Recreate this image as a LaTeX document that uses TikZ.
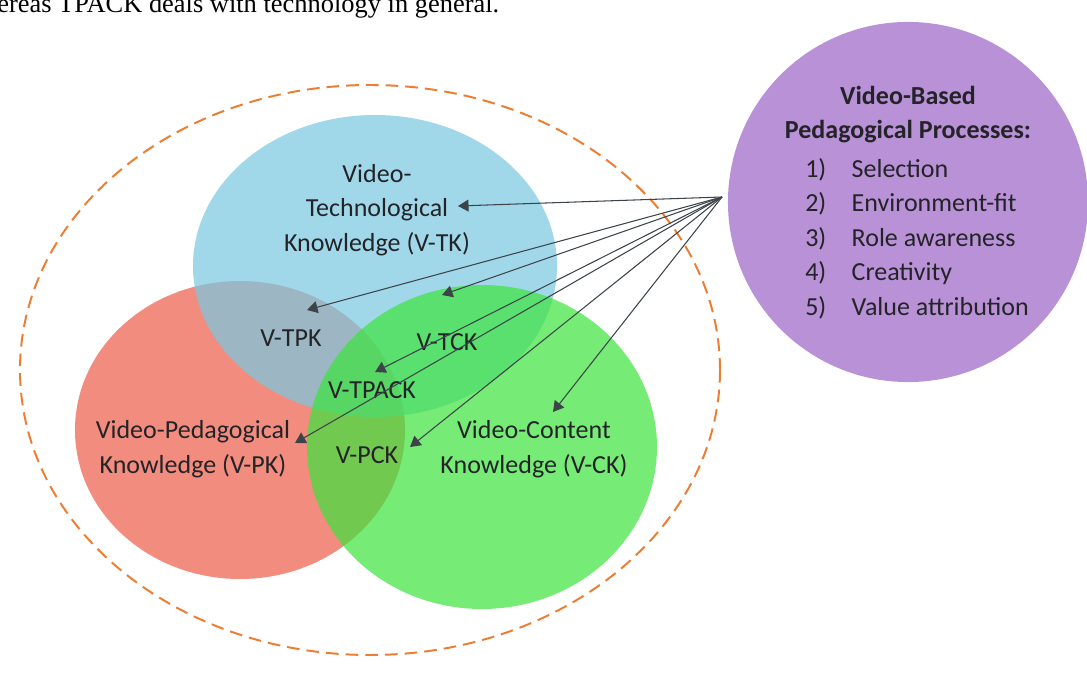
\documentclass[tikz,border=0pt]{standalone}
\usepackage{fontspec}
\setmainfont{Carlito}
\newfontfamily\serifcap{Liberation Serif}
\usetikzlibrary{arrows.meta}

\definecolor{tkblue}{RGB}{120,200,225}
\definecolor{pkred}{RGB}{242,140,126}
\definecolor{ckgreen}{RGB}{60,228,60}
\definecolor{procpurple}{RGB}{185,145,215}
\definecolor{dashorange}{RGB}{237,125,49}
\definecolor{labeltext}{RGB}{35,35,40}
\definecolor{arrowgray}{RGB}{60,68,74}
\newcommand{\itemno}[1]{\makebox[33pt][l]{#1}}

\begin{document}
\begin{tikzpicture}[x=0.025cm, y=-0.025cm,
  lbl/.style = {align=center, inner sep=0pt, text=labeltext,
        font=\fontsize{18.5}{24.5}\selectfont},
  set/.style = {fill opacity=.7},
  arr/.style = {draw=arrowgray, line width=.75pt,
        -{Triangle[width=8.5pt,length=7.5pt]}}]
 \useasboundingbox (0,0) rectangle (1087,676);
 \clip (0,0) rectangle (1087,676);
 \node[anchor=base west, inner sep=0pt,
   font=\serifcap\fontsize{18.8}{22}\selectfont] (caption) at (-3,13)
   {ereas TPACK deals with technology in general.};
 % dashed frame
 \draw[dashorange, line width=1.4pt, dash pattern=on 9pt off 5pt]
   (370,370) ellipse [x radius=350, y radius=285];
 % the three sets
 \fill[pkred] (240,430) ellipse [x radius=165, y radius=149];
 \fill[tkblue, set] (375,266) ellipse [x radius=182, y radius=151];
 \fill[ckgreen, set] (482,447) ellipse [x radius=175, y radius=162];
 \node[circle, fill=procpurple, minimum size=9cm, inner sep=0pt] (proc) at (908,202) {};
 % labels
 \node[lbl] (tk)    at (377,210) {Video-\\Technological\\Knowledge (V-TK)};
 \node[lbl] (pk)    at (193,449) {Video-Pedagogical\\Knowledge (V-PK)};
 \node[lbl] (ck)    at (534,449) {Video-Content\\Knowledge (V-CK)};
 \node[lbl] (tpk)   at (291,338) {V-TPK};
 \node[lbl] (tck)   at (447,342) {V-TCK};
 \node[lbl] (tpack) at (372,390) {V-TPACK};
 \node[lbl] (pck)   at (367,455) {V-PCK};
 \node[lbl, anchor=north, font=\fontsize{18.5}{24.5}\selectfont\bfseries]
   (proctitle) at (908,86) {Video-Based\\Pedagogical Processes:};
 \node[lbl, align=left, anchor=north west] (proclist) at (805,158)
   {\itemno{1)}Selection\\ \itemno{2)}Environment-fit\\ \itemno{3)}Role awareness\\
    \itemno{4)}Creativity\\ \itemno{5)}Value attribution};
 % arrows out of the process circle
 \coordinate (hub)     at (722,197);
 \coordinate (a-tk)    at (458,206);
 \coordinate (a-tpk)   at (307,310);
 \coordinate (a-tck)   at (442,295);
 \coordinate (a-tpack) at (375,372);
 \coordinate (a-pk)    at (295,443);
 \coordinate (a-pck)   at (410,447);
 \coordinate (a-ck)    at (553,412);
 \foreach \t in {tk,tpk,tck,tpack,pk,pck,ck}
   \draw[arr] (hub) -- (a-\t);
\end{tikzpicture}
\end{document}
